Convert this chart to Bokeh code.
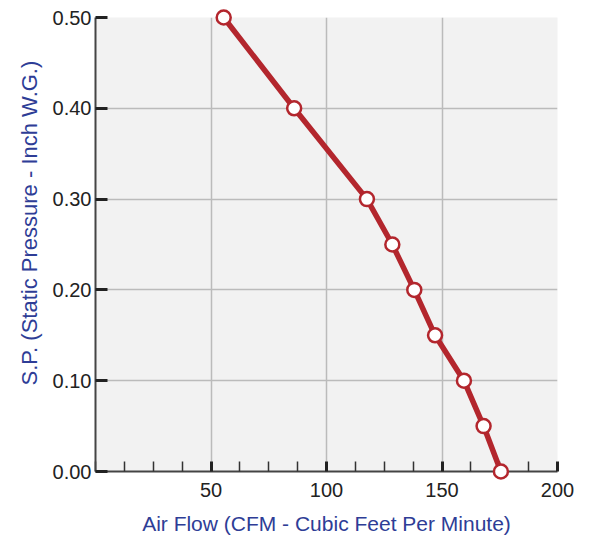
from bokeh.plotting import figure
from bokeh.models import FixedTicker, NumeralTickFormatter, Range1d, Title
from bokeh.embed import file_html
from bokeh.resources import INLINE

# Data
air_flow = [55.5, 86, 117.5, 128.5, 138, 147, 159.5, 168, 175.5]
static_pressure = [0.50, 0.40, 0.30, 0.25, 0.20, 0.15, 0.10, 0.05, 0.00]
x_major_ticks = [50, 100, 150, 200]
x_minor_ticks = [0, 12.5, 25, 37.5, 62.5, 75, 87.5, 112.5, 125, 137.5, 162.5, 175, 187.5]
y_ticks = [0.0, 0.1, 0.2, 0.3, 0.4, 0.5]
x_title = "Air Flow (CFM - Cubic Feet Per Minute)"
y_title = "S.P. (Static Pressure - Inch W.G.)"

RED = "#b3262d"
BLUE = "#2e3d96"
FONT = "Liberation Sans"

p = figure(
    width=580, height=535,
    frame_width=462, frame_height=454,
    x_range=Range1d(0, 200), y_range=Range1d(0, 0.5),
    output_backend="svg", toolbar_location=None,
    min_border_left=95, min_border_top=17, min_border_right=23, min_border_bottom=64,
)
p.background_fill_color = "#f2f2f2"
p.border_fill_color = "white"
p.outline_line_color = None

# x axis
xa = p.xaxis[0]
xa.ticker = FixedTicker(ticks=x_major_ticks, minor_ticks=x_minor_ticks)
xa.axis_label = x_title
xa.axis_label_text_color = BLUE
xa.axis_label_text_font = FONT
xa.axis_label_text_font_size = "21px"
xa.axis_label_text_font_style = "normal"
xa.axis_label_standoff = 12
xa.major_label_text_font = FONT
xa.major_label_text_font_size = "20px"
xa.major_label_text_color = "#222222"
xa.major_label_standoff = 11
xa.axis_line_color = "#444444"
xa.axis_line_width = 2
xa.major_tick_in = 10
xa.major_tick_out = 0
xa.major_tick_line_width = 3
xa.major_tick_line_color = "#222222"
xa.minor_tick_in = 10
xa.minor_tick_out = 0
xa.minor_tick_line_width = 1.5
xa.minor_tick_line_color = "#333333"

# y axis
ya = p.yaxis[0]
ya.ticker = FixedTicker(ticks=y_ticks, minor_ticks=[])
ya.formatter = NumeralTickFormatter(format="0.00")
ya.major_label_text_font = FONT
ya.major_label_text_font_size = "20px"
ya.major_label_text_color = "#222222"
ya.major_label_standoff = 4
ya.axis_line_color = "#444444"
ya.axis_line_width = 2
ya.major_tick_in = 12
ya.major_tick_out = 0
ya.major_tick_line_width = 3
ya.major_tick_line_color = "#222222"
ya.minor_tick_line_color = None

# vertical y title placed in the left panel, starting above the frame bottom like the reference
ytitle = Title(text=y_title, align="left", offset=86, standoff=16,
               text_color=BLUE, text_font=FONT, text_font_size="22px",
               text_font_style="normal")
p.add_layout(ytitle, "left")

# grid
p.xgrid.ticker = FixedTicker(ticks=x_major_ticks)
p.ygrid.ticker = FixedTicker(ticks=y_ticks)
p.grid.grid_line_color = "#bbbbbb"
p.grid.grid_line_width = 1.5

line = p.line(air_flow, static_pressure, line_color=RED, line_width=5.5)
line.level = "overlay"
pts = p.scatter(air_flow, static_pressure, size=14, marker="circle",
                fill_color="white", line_color=RED, line_width=2.5)
pts.level = "overlay"

open("out.html", "w").write(file_html(p, INLINE))
